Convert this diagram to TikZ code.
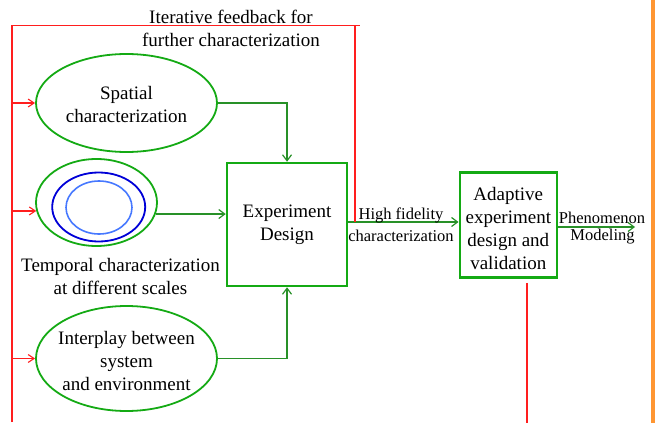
\documentclass[tikz,border=0pt]{standalone}
\usepackage{fontspec}
\setmainfont{Liberation Serif}
\usetikzlibrary{shapes.geometric,arrows.meta,calc}
\definecolor{egreen}{RGB}{20,170,20}
\definecolor{cgreen}{RGB}{40,145,40}
\definecolor{dblue}{RGB}{0,0,215}
\definecolor{lblue}{RGB}{70,120,255}
\definecolor{fbred}{RGB}{255,30,30}
\definecolor{sideorange}{RGB}{255,150,50}
\begin{document}
\begin{tikzpicture}[x=1pt,y=-1pt,
 bigfont/.style={font=\fontsize{19}{23}\selectfont},
 smallfont/.style={font=\fontsize{16.5}{20}\selectfont},
 oval/.style={ellipse,draw=egreen,line width=1.8pt,inner sep=0pt},
 gbox/.style={rectangle,draw=egreen,line width=2.5pt,inner sep=0pt,align=center,bigfont},
 intext/.style={align=center,inner sep=0pt,bigfont},
 garrow/.style={draw=cgreen,line width=1.2pt,-{Straight Barb[length=6pt,width=9pt]}},
 rarrow/.style={draw=fbred,line width=1.1pt,-{Straight Barb[length=6pt,width=8pt]}},
 rline/.style={draw=fbred,line width=1.1pt},
 lbl/.style={align=center,inner sep=0pt}]
\useasboundingbox (0,0) rectangle (662,423);
\fill[sideorange] (650.7,0) rectangle (654.7,423);

\node[oval,minimum width=181pt,minimum height=98pt,
  label={[intext,yshift=-1pt]center:Spatial\\characterization}] (sp) at (126.5,103) {};
\node[oval,minimum width=121pt,minimum height=87pt] (tpo) at (96.5,202.5) {};
\node[ellipse,draw=dblue,line width=1.8pt,minimum width=93pt,minimum height=69pt] (tpm) at (98.7,207) {};
\node[ellipse,draw=lblue,line width=1.6pt,minimum width=66pt,minimum height=53pt] (tpi) at (99,207.5) {};
\node[lbl,bigfont] (tpl) at (120.5,276) {Temporal characterization\\at different scales};
\node[oval,minimum width=181pt,minimum height=105pt,
  label={[intext,yshift=-2.5pt]center:Interplay between\\system\\and environment}] (ip) at (126.5,358.5) {};
\node[gbox,minimum width=120pt,minimum height=123pt] (ed) at (287,224.5) {Experiment\\Design};
\node[gbox,minimum width=97pt,minimum height=105pt,
  label={[intext,yshift=-3.5pt]center:Adaptive\\experiment\\design and\\validation}] (ad) at (508.3,225.2) {};
\node[lbl,bigfont] (fb) at (231,28.5) {Iterative feedback for\\further characterization};

\coordinate (hf) at (0,222);
\coordinate (pm) at (635,227);
\draw[garrow] (sp.east) -| (ed.north);
\draw[garrow] (tpo.-11) -- (tpo.-11 -| ed.west);
\draw[garrow] (ip.east) -| (ed.south);
\draw[garrow] (ed.east |- hf) -- (ad.west |- hf);
\draw[garrow] (ad.east |- pm) -- (pm);
\node[lbl,smallfont] (hf1) at (401,215.7) {High fidelity};
\node[lbl,smallfont] (hf2) at (401,236) {characterization};
\node[lbl,smallfont] (pm1) at (602,217.7) {Phenomenon};
\node[lbl,smallfont] (pm2) at (602.5,237) {Modeling};

\coordinate (fbTL) at (12,25.7);
\coordinate (fbBL) at (12,422);
\coordinate (fbTR) at (360,25.7);
\coordinate (fbRV) at (355,25.7);
\draw[rline] (fbBL) -- (fbTL) -- (fbTR);
\draw[rline] (fbRV) -- (fbRV |- hf);
\draw[rarrow] (sp.west -| fbTL) -- (sp.west);
\draw[rarrow] (tpo.188 -| fbTL) -- (tpo.188);
\draw[rarrow] (ip.west -| fbTL) -- (ip.west);
\coordinate (adout) at (527,423);
\draw[rline] ($(ad.south -| adout)+(0,4)$) -- (adout);
\end{tikzpicture}
\end{document}
